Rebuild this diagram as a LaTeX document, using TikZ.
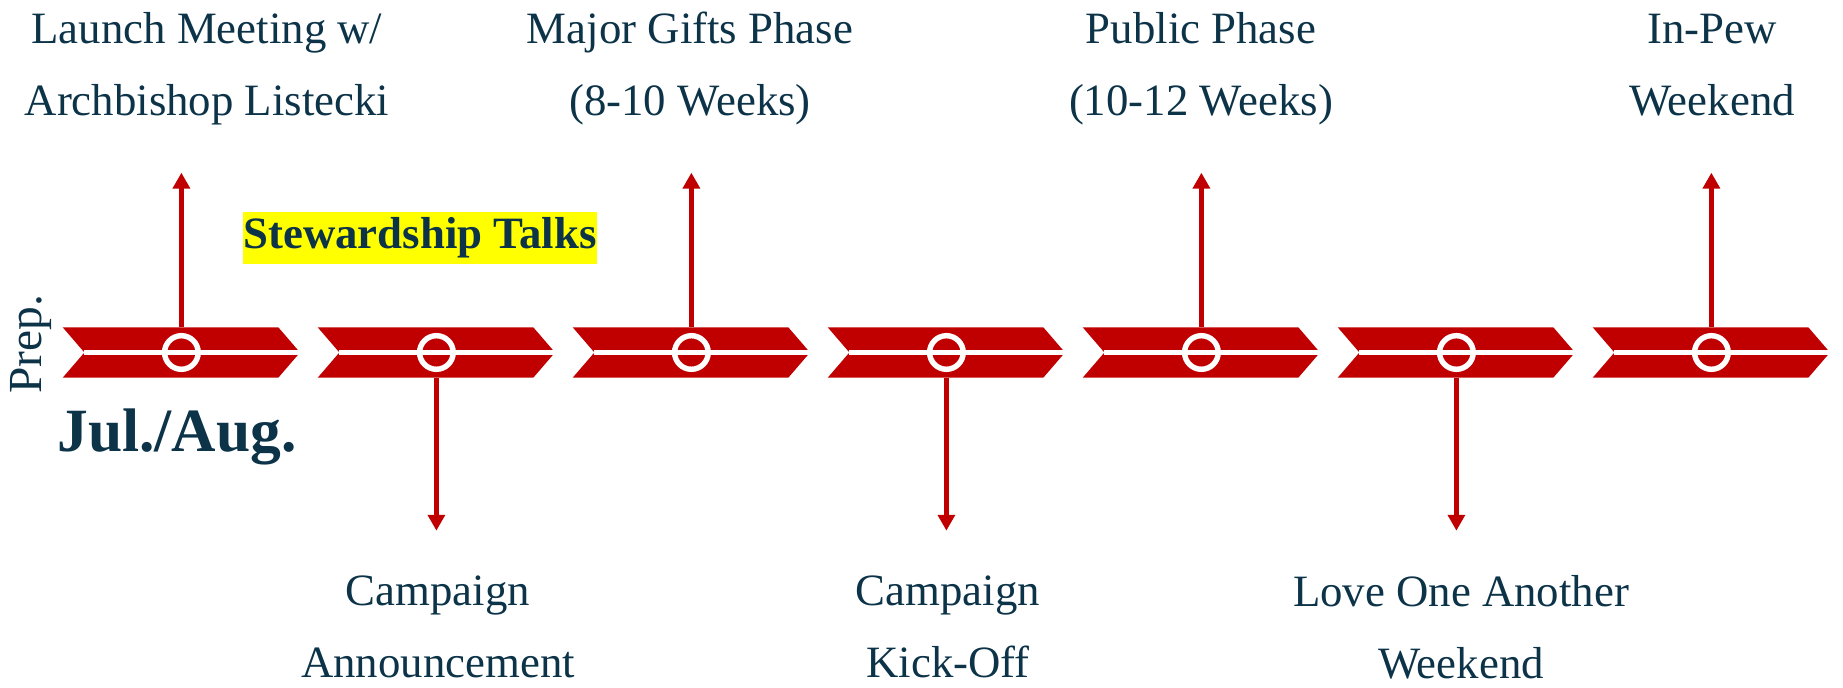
\documentclass[tikz,border=0pt]{standalone}
\usepackage{fontspec}
\setmainfont{Liberation Serif}
\usetikzlibrary{arrows.meta}
\definecolor{chevred}{HTML}{C00000}
\definecolor{inkblue}{HTML}{0C3348}
\definecolor{hilite}{HTML}{FFFF00}
\tikzset{
	chev/.style={fill=chevred},
	gapline/.style={draw=white, line width=3.4pt},
	ring/.style={draw=white, line width=3.1pt},
	evt/.style={draw=chevred, line width=2.8pt, -{Triangle[width=9.5pt,length=9pt]}},
	lbl/.style={text=inkblue, align=center, inner sep=0pt, font=\fontsize{25.5}{40.8}\selectfont}
}

\begin{document}
\begin{tikzpicture}[x=0.02cm, y=-0.02cm]
	\useasboundingbox (0,0) rectangle (1843,688);
	\foreach \i in {1,...,7} {
		\pgfmathsetmacro{\xl}{62.7+255*(\i-1)}
		\pgfmathsetmacro{\xc}{\xl+118.7}
		\fill [chev] (\xl,327.3) -- ++(215.6,0) -- ++(21.7,25.2) -- ++(-21.7,25.2) -- ++(-215.6,0) -- ++(21.7,-25.2) -- cycle;
		\draw [gapline] (\xl+21.7,352.5) -- (\xl+237.3,352.5);
		\coordinate (c\i) at (\xc,352.5);
		\coordinate (t\i) at (\xc,327.3);
		\coordinate (b\i) at (\xc,377.7);
		\coordinate (u\i) at (\xc,172.7);
		\coordinate (d\i) at (\xc,530.7);
		\draw [ring] (c\i) circle [radius = 16.8];
	}
	\foreach \i in {1,3,5,7}
		\draw [evt] (t\i) -- (u\i);
	\foreach \i in {2,4,6}
		\draw [evt] (b\i) -- (d\i);
	\node [lbl] (launch) at (207,68.5) {Launch Meeting w/\\Archbishop Listecki};
	\node [lbl] (major) at (690,68.5) {Major Gifts Phase\\(8-10 Weeks)};
	\node [lbl] (public) at (1201,68.5) {Public Phase\\(10-12 Weeks)};
	\node [lbl] (inpew) at (1712,65) {In-Pew\\Weekend};
	\node [lbl] (announce) at (438,627) {Campaign\\Announcement};
	\node [lbl] (kickoff) at (948,627) {Campaign\\Kick-Off};
	\node [lbl] (loveone) at (1461,627) {Love One Another\\Weekend};
	\node [fill=hilite, text=inkblue, inner sep=0pt, minimum width=6.98cm, minimum height=1.04cm, font=\bfseries\fontsize{25.5}{30}\selectfont] (talks) at (420,238) {Stewardship Talks};
	\node [text=inkblue, inner sep=0pt, anchor=base, font=\bfseries\fontsize{35}{40}\selectfont] (month) at (177,452) {Jul./Aug.};
	\node [lbl, rotate=90, anchor=base, font=\fontsize{27}{30}\selectfont] (prep) at (41.5,344.5) {Prep.};
\end{tikzpicture}
\end{document}
